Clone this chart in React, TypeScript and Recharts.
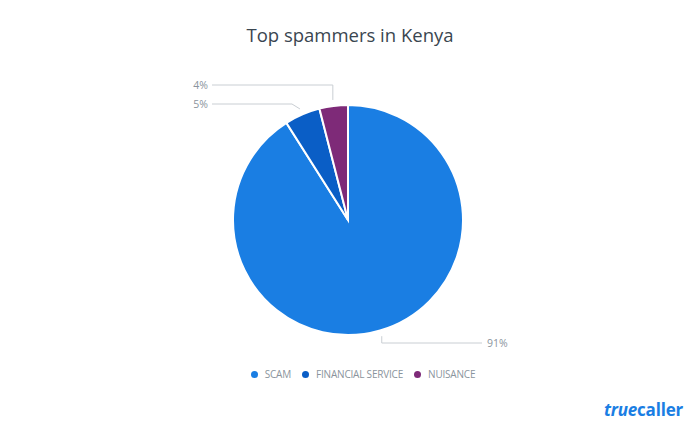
import { PieChart, Pie, Cell } from "recharts"

const categories = ["SCAM", "FINANCIAL SERVICE", "NUISANCE"]
const shares = [91, 5, 4]
const colors = ["#1A7EE3", "#0A5EC6", "#7E2A78"]

const data = categories.map((name, i) => ({ name, value: shares[i] }))

// leader line layout per slice: y of the horizontal run (relative to centre), diagonal bend, end x offset
const labelLayout = [
  { dy: 123, bend: 0, endX: 134 },
  { dy: -116, bend: 8, endX: -136 },
  { dy: -135, bend: 0, endX: -136 },
]

const RAD = Math.PI / 180

function SliceLabel(props: any) {
  const { cx, cy, midAngle, outerRadius, index, value } = props
  const lay = labelLayout[index]
  const r = outerRadius + 6
  const sx = cx + r * Math.cos(-midAngle * RAD)
  const sy = cy + r * Math.sin(-midAngle * RAD)
  const left = lay.endX < 0
  const ey = cy + lay.dy
  const ex = sx + (left ? -lay.bend : lay.bend)
  const fx = cx + lay.endX
  return (
    <g>
      <polyline
        points={`${sx},${sy} ${ex},${ey} ${fx},${ey}`}
        fill="none"
        stroke="#C9CED3"
        strokeWidth={1}
      />
      <text
        x={left ? fx - 4 : fx + 5}
        y={ey + 4}
        textAnchor={left ? "end" : "start"}
        fontSize={10.5}
        fill="#8A949D"
        fontFamily="Open Sans"
      >
        {value}%
      </text>
    </g>
  )
}

function LegendRow() {
  return (
    <div
      style={{
        position: "absolute",
        top: 368,
        left: 0,
        width: 700,
        display: "flex",
        justifyContent: "center",
        gap: 11,
        fontFamily: "Open Sans",
        fontSize: 10,
        letterSpacing: -0.2,
        color: "#8A949D",
        lineHeight: "13px",
        paddingLeft: 26,
        boxSizing: "border-box",
      }}
    >
      {categories.map((c, i) => (
        <span key={c} style={{ display: "flex", alignItems: "center" }}>
          <span
            style={{
              width: 7,
              height: 7,
              borderRadius: "50%",
              background: colors[i],
              marginRight: 7,
              display: "inline-block",
            }}
          />
          {c}
        </span>
      ))}
    </div>
  )
}

export default function App() {
  return (
    <div style={{ position: "fixed", left: 0, top: 0, width: 700, height: 437, background: "#fff" }}>
      <PieChart width={700} height={437} margin={{ top: 0, right: 0, bottom: 0, left: 0 }}>
        <text
          x={350}
          y={42}
          textAnchor="middle"
          fontSize={18.5}
          fill="#3A4650"
          fontFamily="Open Sans"
        >
          Top spammers in Kenya
        </text>
        <Pie
          data={data}
          dataKey="value"
          nameKey="name"
          cx={348}
          cy={220}
          outerRadius={115}
          startAngle={90}
          endAngle={-270}
          stroke="#fff"
          strokeWidth={2}
          label={SliceLabel}
          labelLine={false}
          isAnimationActive={false}
        >
          {data.map((d, i) => (
            <Cell key={d.name} fill={colors[i]} />
          ))}
        </Pie>
        <text x={604} y={416} fontSize={17} fontWeight={700} fill="#1A7EE3" fontFamily="Open Sans" letterSpacing={-0.2}>
          <tspan fontStyle="italic">true</tspan>
          <tspan>caller</tspan>
        </text>
      </PieChart>
      <LegendRow />
    </div>
  )
}
